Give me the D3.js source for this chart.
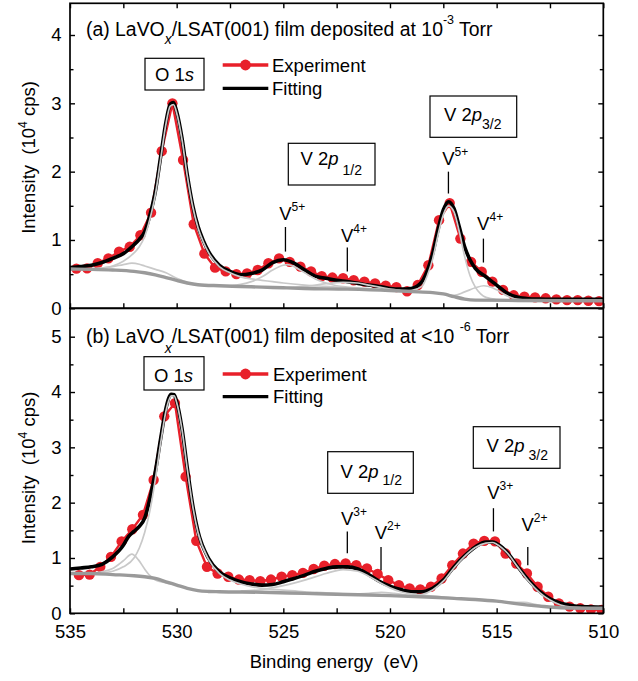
<!DOCTYPE html>
<html>
<head>
<meta charset="utf-8">
<script src="https://cdn.jsdelivr.net/npm/d3@7"></script>
<style>
  body { margin: 0; background: #fff; }
  svg text { font-family: "Liberation Sans", Arial, Helvetica, sans-serif; fill: #000; }
</style>
</head>
<body>
<svg id="chart" width="638" height="681"></svg>
<script>
// ---------------- data: binding energy (eV), intensity (10^4 cps) ----------------
const xMajorTicks = [535, 530, 525, 520, 515, 510];
const xMinorTicks = [532.5, 527.5, 522.5, 517.5, 512.5];
const yTicksA = [0, 1, 2, 3, 4];
const yMinorA = [0.5, 1.5, 2.5, 3.5];
const yTicksB = [0, 1, 2, 3, 4, 5];
const yMinorB = [0.5, 1.5, 2.5, 3.5, 4.5];

// (a) film deposited at 10^-3 Torr
const expA = [
  [534.7,0.58],[534.2,0.585],[533.7,0.66],[533.2,0.73],[532.7,0.83],[532.2,0.90],
  [531.7,1.07],[531.2,1.40],[530.7,2.30],[530.2,3.00],[529.7,2.17],[529.2,1.23],
  [528.7,0.80],[528.2,0.595],[527.7,0.54],[527.2,0.50],[526.7,0.51],[526.2,0.56],
  [525.7,0.66],[525.2,0.73],[524.7,0.68],[524.2,0.61],[523.7,0.54],[523.2,0.47],
  [522.7,0.45],[522.2,0.44],[521.7,0.41],[521.2,0.39],[520.7,0.365],[520.2,0.33],
  [519.7,0.31],[519.2,0.25],[518.7,0.34],[518.2,0.63],[517.7,1.29],[517.2,1.54],
  [516.7,1.02],[516.2,0.68],[515.7,0.535],[515.2,0.39],[514.7,0.27],[514.2,0.19],
  [513.7,0.17],[513.2,0.16],[512.7,0.146],[512.2,0.13],[511.7,0.12],[511.2,0.12],
  [510.7,0.11],[510.2,0.105]
];
const fitA = [
  [535,0.595],[534.5,0.61],[534,0.63],[533.5,0.67],[533,0.73],[532.5,0.80],[532,0.93],
  [531.75,1.01],[531.5,1.12],[531.25,1.37],[531,1.71],[530.75,2.22],[530.5,2.73],
  [530.3,2.99],[530.15,3.01],[530,2.88],[529.75,2.49],[529.5,1.95],[529.25,1.51],
  [529,1.20],[528.75,0.99],[528.5,0.83],[528,0.63],[527.5,0.54],[527,0.49],[526.5,0.51],
  [526,0.56],[525.5,0.67],[525,0.71],[524.5,0.66],[524,0.56],[523.5,0.47],[523,0.44],
  [522.5,0.41],[522,0.39],[521.5,0.365],[521,0.34],[520.5,0.32],[520,0.29],[519.5,0.28],
  [519,0.29],[518.5,0.39],[518.25,0.55],[518,0.80],[517.75,1.15],[517.5,1.44],
  [517.25,1.56],[517,1.46],[516.75,1.19],[516.5,0.90],[516.25,0.71],[516,0.585],
  [515.5,0.46],[515,0.34],[514.5,0.22],[514,0.16],[513.5,0.14],[513,0.135],[512,0.13],[510,0.13]
];
const bgA = [
  [535,0.575],[534,0.57],[533,0.56],[532,0.54],[531.5,0.52],[531,0.49],[530.5,0.45],
  [530,0.41],[529.5,0.37],[529,0.345],[528,0.33],[527,0.32],[526,0.31],[525,0.30],
  [524,0.29],[522,0.28],[520,0.26],[519,0.245],[518,0.23],[517.5,0.21],[517,0.17],
  [516.5,0.135],[516,0.12],[514,0.115],[510,0.11]
];
const o1sMainA = [
  [535,0.575],[534,0.575],[533.5,0.59],[533,0.62],[532.5,0.69],[532,0.81],[531.75,0.90],
  [531.5,1.05],[531.25,1.31],[531,1.66],[530.75,2.18],[530.5,2.70],[530.3,2.96],
  [530.15,2.98],[530,2.86],[529.75,2.47],[529.5,1.93],[529.25,1.49],[529,1.18],
  [528.75,0.97],[528.5,0.81],[528,0.61],[527.5,0.52],[527,0.46],[526.5,0.43],[526,0.41],
  [525.5,0.39],[525,0.37],[524,0.34],[523,0.32],[522,0.30]
];
const o1sShoulderA = [
  [534.5,0.575],[534,0.58],[533.5,0.59],[533,0.61],[532.5,0.64],[532.1,0.66],[531.75,0.645],
  [531.5,0.62],[531,0.57],[530.5,0.52],[530,0.44],[529.5,0.38]
];
const v5HalfA = [
  [527.5,0.33],[527,0.35],[526.5,0.39],[526,0.46],[525.5,0.56],[525,0.63],[524.8,0.64],
  [524.5,0.61],[524,0.52],[523.5,0.43],[523,0.37],[522.5,0.33],[522,0.31],[521,0.29],[520,0.27]
];
const v4HalfA = [
  [525,0.30],[524,0.32],[523,0.36],[522.2,0.38],[521.5,0.37],[521,0.34],[520.5,0.31],
  [520,0.28],[519.5,0.26]
];
const v5ThreeHalfA = [
  [519.5,0.25],[519,0.26],[518.5,0.32],[518.25,0.48],[518,0.72],[517.75,1.07],[517.5,1.37],
  [517.25,1.50],[517,1.41],[516.75,1.12],[516.5,0.76],[516.25,0.48],[516,0.31],
  [515.75,0.21],[515.5,0.16],[515,0.13],[514,0.12]
];
const v4ThreeHalfA = [
  [517.5,0.21],[517,0.19],[516.5,0.24],[516,0.30],[515.6,0.33],[515.2,0.30],[515,0.27],
  [514.5,0.18],[514,0.13],[513.5,0.12]
];

// (b) film deposited at <10^-6 Torr
const expB = [
  [534.58,0.69],[534.08,0.70],[533.58,0.84],[533.08,1.02],[532.58,1.30],[532.08,1.52],
  [531.58,1.78],[531.08,2.41],[530.58,3.56],[530.08,3.80],[529.58,2.47],[529.08,1.31],
  [528.58,0.84],[528.08,0.72],[527.58,0.66],[527.08,0.61],[526.58,0.60],[526.08,0.58],
  [525.58,0.61],[525.08,0.66],[524.58,0.69],[524.08,0.73],[523.58,0.80],[523.08,0.86],
  [522.58,0.89],[522.08,0.90],[521.58,0.87],[521.08,0.81],[520.58,0.71],[520.08,0.60],
  [519.58,0.51],[519.08,0.45],[518.58,0.43],[518.08,0.48],[517.58,0.63],[517.08,0.87],
  [516.58,1.08],[516.08,1.26],[515.58,1.31],[515.08,1.30],[514.58,1.08],[514.08,0.90],
  [513.58,0.72],[513.08,0.48],[512.58,0.30],[512.08,0.18],[511.58,0.12],[511.08,0.09],
  [510.58,0.07],[510.08,0.06]
];
const fitB = [
  [535,0.80],[534.5,0.82],[534,0.84],[533.5,0.885],[533,1.02],[532.5,1.23],[532.25,1.39],
  [532,1.48],[531.75,1.57],[531.5,1.72],[531.25,2.08],[531,2.56],[530.75,3.16],[530.5,3.71],
  [530.25,3.96],[530.12,3.95],[530,3.83],[529.75,3.34],[529.5,2.62],[529.25,1.96],[529,1.48],
  [528.5,0.99],[528,0.75],[527.5,0.64],[527,0.57],[526.5,0.53],[526,0.51],[525.5,0.52],
  [525,0.57],[524.5,0.63],[524,0.69],[523.5,0.76],[523,0.81],[522.5,0.84],[522,0.84],
  [521.5,0.80],[521,0.70],[520.5,0.58],[520,0.49],[519.5,0.43],[519,0.39],[518.5,0.39],
  [518,0.45],[517.5,0.60],[517,0.84],[516.5,1.04],[516,1.20],[515.5,1.29],[515.2,1.29],
  [515,1.26],[514.5,1.10],[514,0.84],[513.5,0.60],[513,0.40],[512.5,0.26],[512,0.18],
  [511.5,0.14],[511,0.12],[510,0.11]
];
const bgB = [
  [535,0.72],[534,0.72],[533,0.70],[532,0.68],[531.5,0.66],[531,0.63],[530.5,0.57],
  [530,0.51],[529.5,0.45],[529,0.41],[528.5,0.395],[528,0.39],[526,0.38],[524,0.36],
  [522,0.34],[520,0.32],[518,0.29],[517,0.27],[516,0.25],[515,0.22],[514,0.17],
  [513,0.13],[512,0.10],[510,0.09]
];
const o1sMainB = [
  [535,0.72],[534,0.72],[533.5,0.73],[533,0.76],[532.5,0.84],[532,1.00],[531.75,1.18],
  [531.5,1.46],[531.25,1.86],[531,2.42],[530.75,3.08],[530.5,3.66],[530.25,3.93],
  [530.12,3.93],[530,3.81],[529.75,3.32],[529.5,2.60],[529.25,1.94],[529,1.46],
  [528.5,0.97],[528,0.72],[527.5,0.60],[527,0.53],[526.5,0.48],[526,0.45],[525,0.42],
  [524,0.39],[523,0.37],[522,0.345]
];
const o1sShoulderB = [
  [534.5,0.72],[534,0.725],[533.5,0.75],[533,0.81],[532.5,0.95],[532.1,1.07],[531.8,0.97],
  [531.5,0.80],[531.25,0.68],[531,0.60],[530.5,0.55],[530,0.51]
];
const v3HalfB = [
  [527,0.40],[526,0.43],[525,0.50],[524,0.60],[523,0.72],[522.2,0.79],[521.5,0.76],
  [521,0.67],[520.5,0.56],[520,0.46],[519.5,0.39],[519,0.35],[518,0.31],[517,0.28]
];
const v2HalfB = [
  [522,0.34],[521,0.36],[520.4,0.38],[519.8,0.36],[519,0.32],[518.5,0.30]
];
const v3ThreeHalfB = [
  [519,0.32],[518.5,0.34],[518,0.42],[517.5,0.58],[517,0.82],[516.5,1.03],[516,1.19],
  [515.5,1.27],[515.2,1.28],[515,1.25],[514.5,1.09],[514,0.83],[513.5,0.58],[513,0.38],
  [512.5,0.24],[512,0.15],[511.5,0.11],[511,0.10],[510,0.09]
];
const v2ThreeHalfB = [
  [515,0.22],[514.3,0.20],[513.7,0.20],[513.2,0.16],[512.6,0.12]
];

// valence markers: energy, oxidation state
const markersA = [
  { e: 524.9, state: "5+" }, { e: 522.0, state: "4+" },
  { e: 517.26, state: "5+" }, { e: 515.62, state: "4+" }
];
const markersB = [
  { e: 522.0, state: "3+" }, { e: 520.42, state: "2+" },
  { e: 515.15, state: "3+" }, { e: 513.54, state: "2+" }
];

// ---------------- layout ----------------
const svg = d3.select("#chart");
const plotL = 70, plotR = 603.3;
const x = d3.scaleLinear().domain([535, 510]).range([plotL, plotR]);

const panels = [
  {
    id: "a", top: 3.3, bottom: 308.3,
    y: d3.scaleLinear().domain([0, 4]).range([308.3, 35.0]),
    yTicks: yTicksA, yMinor: yMinorA,
    exp: expA, fit: fitA, bg: bgA,
    comps: [o1sMainA, o1sShoulderA, v5HalfA, v4HalfA, v5ThreeHalfA, v4ThreeHalfA],
    markers: markersA,
    // marker tick span and label baseline, in intensity units
    markerPos: [[0.83, 1.19, 1.29], [0.54, 0.89, 0.97], [1.68, 2.0, 2.10], [0.67, 1.02, 1.15]],
    title: [
      { t: "(a) LaVO" }, { t: "x", sub: true }, { t: "/LSAT(001) film deposited at 10" },
      { t: "-3", sup: true }, { t: " Torr" }
    ],
    titlePos: [86, 36], subShift: 8,
    legend: { x0: 222.7, x1: 268.3, yExp: 65, yFit: 88.3, tx: 272 },
    boxes: [
      { r: [145, 58.3, 59, 31.7], tx: 155, ty: 81, parts: [{ t: "O 1" }, { t: "s", it: true }] },
      { r: [288.3, 143.3, 86.7, 41.7], tx: 300.5, ty: 165,
        parts: [{ t: "V 2" }, { t: "p", it: true }, { t: " 1/2", sub: true, shift: 10 }] },
      { r: [430, 96, 86.7, 41.3], tx: 444, ty: 120.5,
        parts: [{ t: "V 2" }, { t: "p", it: true }, { t: "3/2", sub: true, shift: 8 }] }
    ],
    axisTitleY: 157.5, xLabels: false
  },
  {
    id: "b", top: 308.3, bottom: 613.3,
    y: d3.scaleLinear().domain([0, 5]).range([613.3, 336.7]),
    yTicks: yTicksB, yMinor: yMinorB,
    exp: expB, fit: fitB, bg: bgB,
    comps: [o1sMainB, o1sShoulderB, v3HalfB, v2HalfB, v3ThreeHalfB, v2ThreeHalfB],
    markers: markersB,
    markerPos: [[1.085, 1.48, 1.60], [0.78, 1.20, 1.34], [1.48, 1.90, 2.06], [0.87, 1.20, 1.48]],
    title: [
      { t: "(b) LaVO" }, { t: "x", sub: true }, { t: "/LSAT(001) film deposited at <10 " },
      { t: "-6", sup: true }, { t: " Torr" }
    ],
    titlePos: [86, 343], subShift: 10,
    legend: { x0: 222.7, x1: 268.3, yExp: 374, yFit: 396.7, tx: 273 },
    boxes: [
      { r: [144, 356.7, 60, 33.3], tx: 154, ty: 381.7, parts: [{ t: "O 1" }, { t: "s", it: true }] },
      { r: [327.7, 451.7, 85.6, 41.6], tx: 340.5, ty: 478.3,
        parts: [{ t: "V 2" }, { t: "p", it: true }, { t: " 1/2", sub: true, shift: 7 }] },
      { r: [473.3, 426.7, 86.7, 41.6], tx: 486.5, ty: 452,
        parts: [{ t: "V 2" }, { t: "p", it: true }, { t: " 3/2", sub: true, shift: 7.5 }] }
    ],
    axisTitleY: 468, xLabels: true
  }
];

const FS = 18.5;
const RED = "#e8202a";

// write a run of text with italic / sub / superscript pieces
function richText(g, tx, ty, parts, opts = {}) {
  const t = g.append("text").attr("x", tx).attr("y", ty).attr("font-size", opts.size || FS);
  let shift = 0;
  parts.forEach(p => {
    let target = 0;
    let size = opts.size || FS;
    if (p.sub) { target = p.shift != null ? p.shift : (opts.subShift || 8); size = opts.subSize || 14; }
    if (p.sup) { target = -(opts.supShift || 12); size = opts.supSize || 12.5; }
    const s = t.append("tspan").text(p.t).attr("font-size", size).attr("dy", target - shift);
    if (p.it || p.sub && p.t === "x") s.attr("font-style", "italic");
    shift = target;
  });
  return t;
}

panels.forEach(P => {
  const g = svg.append("g").attr("class", "panel-" + P.id);
  const y = P.y;

  g.append("clipPath").attr("id", "clip-" + P.id)
    .append("rect").attr("x", plotL).attr("y", P.top)
    .attr("width", plotR - plotL).attr("height", P.bottom - P.top);

  const plot = g.append("g").attr("clip-path", `url(#clip-${P.id})`);
  const smooth = d3.line().x(d => x(d[0])).y(d => y(d[1])).curve(d3.curveMonotoneX);
  const straight = d3.line().x(d => x(d[0])).y(d => y(d[1]));

  // experiment: red connected symbols
  plot.append("path").datum(P.exp).attr("d", straight)
    .attr("fill", "none").attr("stroke", RED).attr("stroke-width", 2.4);
  plot.selectAll("circle.exp").data(P.exp).join("circle").attr("class", "exp")
    .attr("cx", d => x(d[0])).attr("cy", d => y(d[1])).attr("r", 5.2).attr("fill", RED);

  // total fit
  plot.append("path").datum(P.fit).attr("d", smooth)
    .attr("fill", "none").attr("stroke", "#000").attr("stroke-width", 3.6)
    .attr("stroke-linejoin", "round");

  // fitted components
  P.comps.forEach(c => {
    plot.append("path").datum(c).attr("d", smooth)
      .attr("fill", "none").attr("stroke", "#c9c9c9").attr("stroke-width", 1.7);
  });

  // background
  plot.append("path").datum(P.bg).attr("d", smooth)
    .attr("fill", "none").attr("stroke", "#9a9a9a").attr("stroke-width", 3.4);

  // ---- axes ----
  const axL = d3.axisLeft(y).tickValues(P.yTicks).tickSizeInner(-5).tickSizeOuter(0)
    .tickPadding(8.5).tickFormat(d3.format("d"));
  g.append("g").attr("transform", `translate(${plotL},0)`).call(axL);
  const axLm = d3.axisLeft(y).tickValues(P.yMinor).tickSizeInner(-3.5).tickSizeOuter(0).tickFormat("");
  g.append("g").attr("transform", `translate(${plotL},0)`).call(axLm);
  const axR = d3.axisRight(y).tickValues(P.yTicks).tickSizeInner(-5).tickSizeOuter(0).tickFormat("");
  g.append("g").attr("transform", `translate(${plotR},0)`).call(axR);
  const axRm = d3.axisRight(y).tickValues(P.yMinor).tickSizeInner(-3.5).tickSizeOuter(0).tickFormat("");
  g.append("g").attr("transform", `translate(${plotR},0)`).call(axRm);

  const axB = d3.axisBottom(x).tickValues(xMajorTicks.concat(xMinorTicks))
    .tickSizeInner(-5).tickSizeOuter(0).tickPadding(12)
    .tickFormat(d => (P.xLabels && xMajorTicks.includes(d)) ? d3.format("d")(d) : "");
  g.append("g").attr("transform", `translate(0,${P.bottom})`).call(axB);
  if (P.id === "a") {
    const axT = d3.axisTop(x).tickValues(xMajorTicks.concat(xMinorTicks))
      .tickSizeInner(-5).tickSizeOuter(0).tickFormat("");
    g.append("g").attr("transform", `translate(0,${P.top})`).call(axT);
  }
  g.selectAll(".domain").remove();
  g.selectAll(".tick line").attr("stroke", "#000").attr("stroke-width", 1.4);
  g.selectAll(".tick text").attr("font-size", FS)
    .attr("font-family", "'Liberation Sans', Arial, sans-serif").attr("fill", "#000");

  // frame
  g.append("rect").attr("x", plotL).attr("y", P.top)
    .attr("width", plotR - plotL).attr("height", P.bottom - P.top)
    .attr("fill", "none").attr("stroke", "#000").attr("stroke-width", 1.7);

  // y-axis title
  const yt = g.append("text").attr("font-size", FS).attr("text-anchor", "middle")
    .attr("transform", `translate(35,${P.axisTitleY}) rotate(-90)`);
  yt.append("tspan").text("Intensity\u00a0\u00a0(10");
  yt.append("tspan").text("4").attr("font-size", 12).attr("dy", -8);
  yt.append("tspan").text(" cps)").attr("dy", 8);

  // panel title
  richText(g, P.titlePos[0], P.titlePos[1], P.title, { size: 19.4, subShift: P.subShift, supShift: 12 });

  // legend
  const L = P.legend;
  g.append("line").attr("x1", L.x0).attr("x2", L.x1).attr("y1", L.yExp).attr("y2", L.yExp)
    .attr("stroke", RED).attr("stroke-width", 3.3);
  g.append("circle").attr("cx", (L.x0 + L.x1) / 2).attr("cy", L.yExp).attr("r", 5.4).attr("fill", RED);
  g.append("text").attr("x", L.tx).attr("y", L.yExp + 6.6).attr("font-size", FS).text("Experiment");
  g.append("line").attr("x1", L.x0).attr("x2", L.x1).attr("y1", L.yFit).attr("y2", L.yFit)
    .attr("stroke", "#000").attr("stroke-width", 3.3);
  g.append("text").attr("x", L.tx).attr("y", L.yFit + 6.6).attr("font-size", FS).text("Fitting");

  // labelled boxes
  P.boxes.forEach(b => {
    g.append("rect").attr("x", b.r[0]).attr("y", b.r[1]).attr("width", b.r[2]).attr("height", b.r[3])
      .attr("fill", "#fff").attr("stroke", "#000").attr("stroke-width", 1.2);
    richText(g, b.tx, b.ty, b.parts, { subSize: 14 });
  });

  // valence markers
  P.markers.forEach((m, i) => {
    const [lo, hi, lab] = P.markerPos[i];
    const mx = x(m.e);
    g.append("line").attr("x1", mx).attr("x2", mx).attr("y1", y(lo)).attr("y2", y(hi))
      .attr("stroke", "#000").attr("stroke-width", 1.3);
    richText(g, mx - 6.3, y(lab), [{ t: "V" }, { t: m.state, sup: true }],
      { supShift: 9, supSize: 12 });
  });
});

// x-axis title
svg.append("text").attr("x", 334).attr("y", 668).attr("text-anchor", "middle")
  .attr("font-size", FS).text("Binding energy\u00a0\u00a0(eV)");
</script>
</body>
</html>
